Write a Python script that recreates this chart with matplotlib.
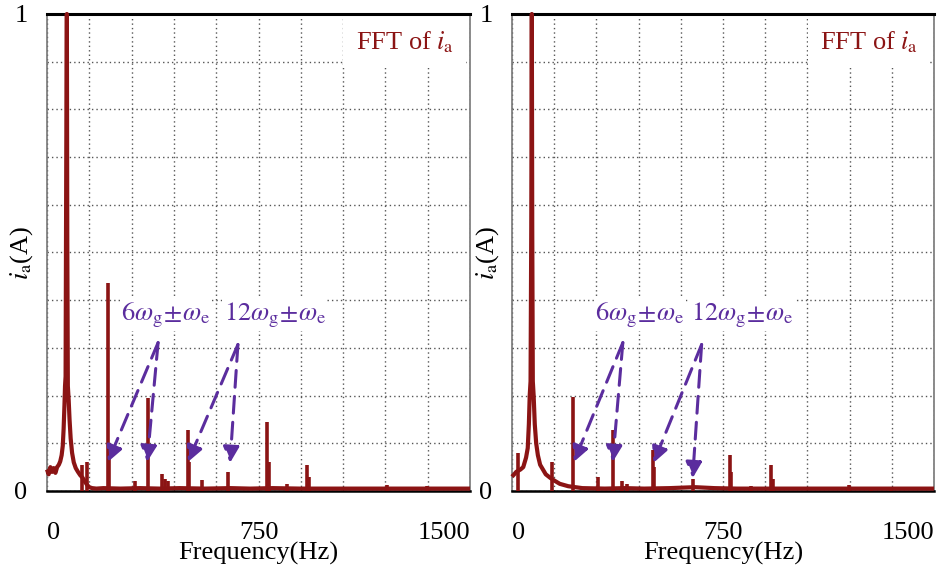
import numpy as np
import matplotlib
matplotlib.use('Agg')
import matplotlib.pyplot as plt

plt.rcParams['font.family'] = ['Liberation Serif', 'DejaVu Serif']
plt.rcParams['mathtext.fontset'] = 'stix'

RED = '#8b1414'
PURPLE = '#5b2d9e'

# ---------------- data ----------------
x_tick_values = [0, 750, 1500]
y_tick_values = [0, 1]
x_grid_step = 150
y_grid_step = 0.1

# Left panel: background trace (freq Hz, amplitude A)
left_bg_f = [0, 6, 12, 18, 24, 30, 36, 42, 47, 52, 56, 59, 62, 64, 66, 68.5, 70.5, 72, 74,
             77, 80, 84, 89, 95, 102, 110, 118, 126, 134, 142, 150, 160, 175, 200, 260,
             330, 400, 470, 560, 650, 720, 800, 900, 1000, 1100, 1200, 1300, 1400, 1500]
left_bg_a = [0.045, 0.035, 0.05, 0.04, 0.048, 0.038, 0.05, 0.055, 0.062, 0.075, 0.095, 0.13,
             0.18, 0.22, 0.24, 0.72, 1.0, 0.52, 0.22, 0.19, 0.15, 0.11, 0.08, 0.06, 0.048,
             0.04, 0.033, 0.028, 0.02, 0.013, 0.008, 0.006, 0.005, 0.006, 0.005, 0.006,
             0.005, 0.006, 0.005, 0.006, 0.005, 0.006, 0.005, 0.005, 0.005, 0.005, 0.005,
             0.005, 0.005]
# Left panel: spectral lines
left_pk_f = [124, 142, 216, 220, 312, 358, 408, 418, 429, 500, 504, 550, 642, 780, 786,
             851, 922, 930, 993, 1205, 1348]
left_pk_a = [0.055, 0.06, 0.437, 0.1, 0.02, 0.195, 0.035, 0.025, 0.02, 0.128, 0.06, 0.022,
             0.04, 0.145, 0.06, 0.015, 0.055, 0.03, 0.008, 0.012, 0.01]

# Right panel: background trace
right_bg_f = [0, 8, 15, 30, 40, 50, 56, 60, 63, 66, 68.5, 70.5, 72, 74, 77, 81, 86, 92,
              100, 110, 120, 135, 150, 170, 200, 250, 330, 400, 470, 560, 650, 720, 800,
              900, 1000, 1100, 1200, 1300, 1400, 1500]
right_bg_a = [0.03, 0.035, 0.04, 0.045, 0.05, 0.07, 0.09, 0.14, 0.2, 0.23, 0.55, 1.0, 0.55,
              0.23, 0.2, 0.14, 0.1, 0.075, 0.055, 0.045, 0.035, 0.028, 0.022, 0.015, 0.01,
              0.006, 0.005, 0.006, 0.005, 0.006, 0.008, 0.006, 0.005, 0.005, 0.005, 0.005,
              0.005, 0.005, 0.005, 0.005]
right_pk_f = [22, 142, 216, 305, 358, 390, 410, 500, 504, 642, 776, 780, 851, 922, 926,
              1199, 1277, 1348]
right_pk_a = [0.08, 0.06, 0.198, 0.03, 0.128, 0.02, 0.015, 0.086, 0.05, 0.025, 0.076, 0.04,
              0.01, 0.055, 0.025, 0.012, 0.006, 0.008]

label_6 = r'$6\omega_{\rm g}\!\pm\!\omega_{\rm e}$'
label_12 = r'$12\omega_{\rm g}\!\pm\!\omega_{\rm e}$'

# annotation placements: (text x, text y) and arrows (start -> end)
left_labels = [(422, 0.368, label_6), (808, 0.368, label_12)]
left_arrows = [((394, 0.311), (216, 0.061)), ((394, 0.311), (355, 0.061)),
               ((677, 0.307), (500, 0.061)), ((677, 0.307), (649, 0.059))]
right_labels = [(454, 0.368, label_6), (819, 0.368, label_12)]
right_arrows = [((394, 0.311), (220, 0.061)), ((394, 0.311), (358, 0.061)),
                ((674, 0.307), (503, 0.059)), ((674, 0.307), (642, 0.027))]

fig = plt.figure(figsize=(9.49, 5.69), dpi=100)
axL = fig.add_axes([0.0495, 0.1371, 0.4458, 0.8383])
axR = fig.add_axes([0.5395, 0.1371, 0.4447, 0.8383])


def draw(ax, bg_f, bg_a, pk_f, pk_a, labels, arrows):
    ax.set_xlim(0, 1500)
    ax.set_ylim(0, 1)
    ax.set_xticks(x_tick_values)
    ax.set_xticklabels([str(v) for v in x_tick_values])
    ax.set_yticks(y_tick_values)
    ax.set_yticklabels([str(v) for v in y_tick_values])
    ax.set_xticks(np.arange(0, 1500 + 1, x_grid_step), minor=True)
    ax.set_yticks(np.arange(0, 1.0001, y_grid_step), minor=True)
    ax.tick_params(which='both', length=0)
    ax.tick_params(axis='x', pad=22, labelsize=19)
    ax.tick_params(axis='y', pad=14, labelsize=19)
    xl = ax.get_xticklabels()
    xl[0].set_horizontalalignment('left')
    xl[-1].set_horizontalalignment('right')
    ax.grid(which='both', color='#555555', linestyle=(0, (1, 2.2)), linewidth=1.0)

    ax.plot(bg_f, bg_a, color=RED, lw=3.0, zorder=3, clip_on=False,
            solid_joinstyle='round', solid_capstyle='butt')
    ax.vlines(pk_f, 0, pk_a, color=RED, lw=2.6, zorder=3)

    for s in ['left', 'right']:
        ax.spines[s].set_color('#777777')
        ax.spines[s].set_linewidth(1.2)
    ax.spines['top'].set_color('black')
    ax.spines['top'].set_linewidth(2.2)
    ax.spines['bottom'].set_color('black')
    ax.spines['bottom'].set_linewidth(1.8)

    ax.text(0.962, 0.94, r'FFT of $i_{\rm a}$', transform=ax.transAxes, ha='right',
            va='center', fontsize=19, color=RED, zorder=4,
            bbox=dict(facecolor='white', edgecolor='none', pad=9))

    for tx, ty, s in labels:
        ax.text(tx, ty, s, ha='center', va='center', fontsize=19, color=PURPLE, zorder=4,
                bbox=dict(facecolor='white', edgecolor='none', pad=1))
    for start, end in arrows:
        ax.annotate('', xy=end, xytext=start, zorder=5,
                    arrowprops=dict(arrowstyle='-|>', color=PURPLE, lw=2.2,
                                    linestyle=(0, (5.5, 3)), mutation_scale=24,
                                    shrinkA=0, shrinkB=0))

    ax.set_xlabel('Frequency(Hz)', fontsize=19, va='center')
    ax.xaxis.set_label_coords(0.5, -0.13)
    ax.set_ylabel(r'$i_{\rm a}$(A)', fontsize=19, va='center')
    ax.yaxis.set_label_coords(-0.059, 0.5)


draw(axL, left_bg_f, left_bg_a, left_pk_f, left_pk_a, left_labels, left_arrows)
draw(axR, right_bg_f, right_bg_a, right_pk_f, right_pk_a, right_labels, right_arrows)

fig.savefig('out.png', dpi=100)
